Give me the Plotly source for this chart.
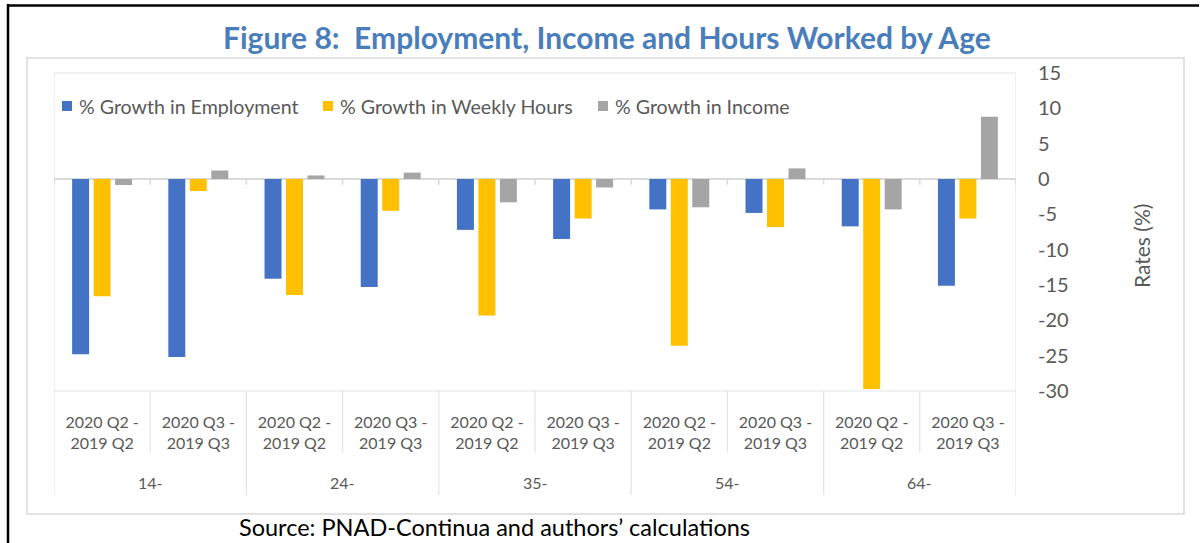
import plotly.graph_objects as go

# ---------------- data ----------------
ages = ["14-", "24-", "35-", "54-", "64-"]
periods = ["2020 Q2 -<br>2019 Q2", "2020 Q3 -<br>2019 Q3"]
series_names = ["% Growth in Employment", "% Growth in Weekly Hours", "% Growth in Income"]
employment = [-24.8, -25.2, -14.1, -15.3, -7.2, -8.5, -4.3, -4.8, -6.7, -15.1]
weekly_hours = [-16.6, -1.7, -16.4, -4.5, -19.3, -5.6, -23.6, -6.8, -29.7, -5.6]
income = [-0.85, 1.2, 0.5, 0.9, -3.3, -1.2, -4.0, 1.5, -4.3, 8.8]
y_ticks = [15, 10, 5, 0, -5, -10, -15, -20, -25, -30]
y_ticktext = ["15", "10", "5", "0", "-5", "-10", "-15", "-20", "-25", "-30"]

title_text = "Figure 8:  Employment, Income and Hours Worked by Age"
y_title = "Rates (%)"
source_text = "Source: PNAD-Continua and authors\u2019 calculations"

# ---------------- styling ----------------
colors = ["#4472C4", "#FFC000", "#A5A5A5"]
TXT = "#595959"
FONT = "Lato"

W, H = 1204, 543
ML, MR, MT, MB = 54, 188, 73, 152
PW, PH = W - ML - MR, H - MT - MB


def px(xp):
    return (xp - ML) / PW


def py(yp):
    return (H - MB - yp) / PH


cat_period = [p for a in ages for p in periods]
xpos = list(range(len(cat_period)))

fig = go.Figure()
for name, vals, col in zip(series_names, [employment, weekly_hours, income], colors):
    fig.add_trace(go.Bar(x=xpos, y=vals, name=name, marker=dict(color=col, line=dict(width=0)),
                         showlegend=False, hoverinfo="skip"))

shapes = []
ann = []

# outer black frame (picture border)
shapes.append(dict(type="line", xref="paper", yref="paper", x0=px(8), x1=px(8), y0=py(4), y1=py(545),
                   line=dict(color="black", width=2.5), layer="above"))
shapes.append(dict(type="line", xref="paper", yref="paper", x0=px(7), x1=px(1199), y0=py(5.5), y1=py(5.5),
                   line=dict(color="black", width=2.5), layer="above"))
# chart area frame
shapes.append(dict(type="rect", xref="paper", yref="paper", x0=px(27), x1=px(1184), y0=py(58), y1=py(514),
                   line=dict(color="#D9D9D9", width=1.5), layer="below"))
# plot area border (top/bottom) and label-table separators
GRID = "#E4E4E4"
shapes.append(dict(type="line", xref="x", yref="paper", x0=-0.5, x1=9.5, y0=1, y1=1,
                   line=dict(color=GRID, width=1.2)))
shapes.append(dict(type="line", xref="x", yref="paper", x0=-0.5, x1=9.5, y0=0, y1=0,
                   line=dict(color=GRID, width=1.2)))
n = len(xpos)
for k in range(n + 1):
    xb = k - 0.5
    if k % 2 == 0:
        top = 1 if k in (0, n) else 0
        shapes.append(dict(type="line", xref="x", yref="paper", x0=xb, x1=xb, y0=top, y1=py(495),
                           line=dict(color=GRID, width=1.2)))
    else:
        shapes.append(dict(type="line", xref="x", yref="paper", x0=xb, x1=xb, y0=0, y1=py(453),
                           line=dict(color=GRID, width=1.2)))
    # tick marks below zero line
    shapes.append(dict(type="line", xref="x", yref="y", x0=xb, x1=xb, y0=0, y1=-0.8,
                       line=dict(color="#D9D9D9", width=1.5)))

# group labels
for i, a in enumerate(ages):
    ann.append(dict(x=2 * i + 0.5, y=py(482), xref="x", yref="paper", text=a, showarrow=False,
                    font=dict(family=FONT, size=16, color=TXT), xanchor="center", yanchor="middle"))

# legend (manual)
leg_x = [62, 323, 598]
for name, col, lx in zip(series_names, colors, leg_x):
    shapes.append(dict(type="rect", xref="paper", yref="paper", x0=px(lx), x1=px(lx + 10),
                       y0=py(101), y1=py(111), fillcolor=col, line=dict(width=0)))
    ann.append(dict(x=px(lx + 15), y=py(106), xref="paper", yref="paper", text=name, showarrow=False,
                    font=dict(family=FONT, size=19.6, color=TXT), xanchor="left", yanchor="middle"))

# title
ann.append(dict(x=px(607), y=py(37), xref="paper", yref="paper", text="<b>" + title_text + "</b>",
                showarrow=False, font=dict(family=FONT, size=30, color="#4A7EBB"),
                xanchor="center", yanchor="middle"))
# y title
ann.append(dict(x=px(1141), y=py(246), xref="paper", yref="paper", text=y_title, showarrow=False,
                textangle=-90, font=dict(family=FONT, size=21, color=TXT),
                xanchor="center", yanchor="middle"))
# source
ann.append(dict(x=px(494), y=py(542.5), xref="paper", yref="paper", text=source_text, showarrow=False,
                font=dict(family=FONT, size=23.5, color="black"), xanchor="center", yanchor="bottom"))

fig.update_layout(
    width=W, height=H,
    margin=dict(l=ML, r=MR, t=MT, b=MB, pad=0),
    paper_bgcolor="white", plot_bgcolor="white",
    barmode="group", bargap=0.33, bargroupgap=0.21,
    shapes=shapes, annotations=ann,
    xaxis=dict(range=[-0.5, 9.5], tickvals=xpos, ticktext=cat_period, showgrid=False, zeroline=False,
               showline=False, ticks="", ticklabelstandoff=20,
               tickfont=dict(family=FONT, size=16, color=TXT), fixedrange=True),
    yaxis=dict(range=[-30, 15], tickvals=y_ticks, ticktext=y_ticktext, side="right", showgrid=False,
               zeroline=True, zerolinecolor="#D9D9D9", zerolinewidth=1.5, showline=False, ticks="",
               ticklabelstandoff=21, tickfont=dict(family=FONT, size=20, color=TXT), fixedrange=True),
)

fig.write_html("out.html", config={"displayModeBar": False},
               post_script="document.body.style.margin='0';")
